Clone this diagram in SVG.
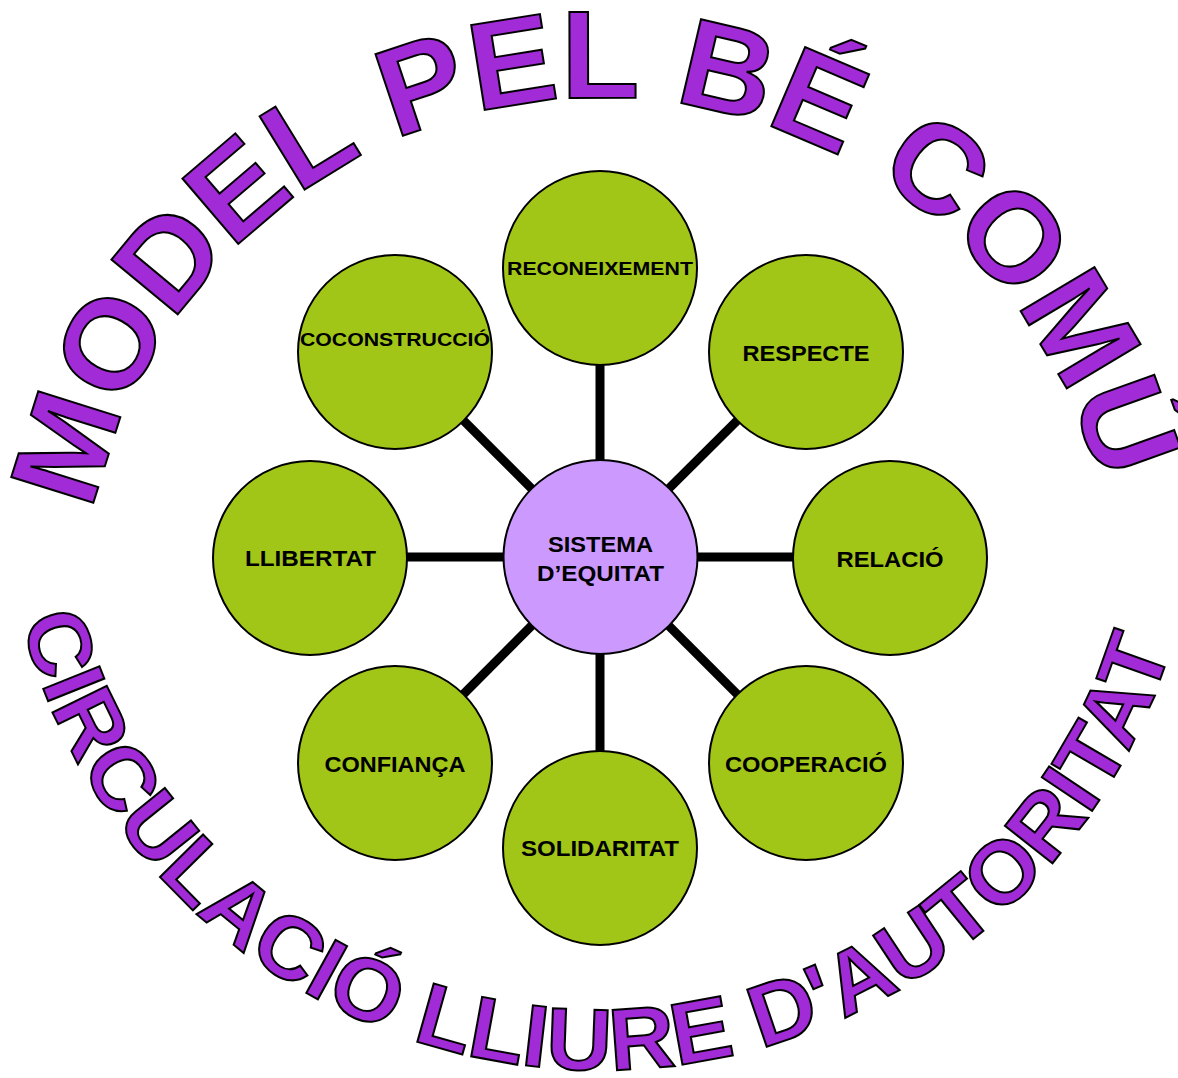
<svg xmlns="http://www.w3.org/2000/svg" width="1178" height="1078" viewBox="0 0 1178 1078">
<defs>
<style>
.arc{font-family:"Liberation Sans",Arial,sans-serif;font-weight:bold;fill:#A22BD8;stroke:#000;stroke-width:2;stroke-linejoin:miter}
.node circle{fill:#A2C617;stroke:#000;stroke-width:2}
.hub circle{fill:#CC99FF;stroke:#000;stroke-width:2}
.lbl{font-family:"Liberation Sans",Arial,sans-serif;font-weight:bold;fill:#000;text-anchor:middle}
.conn line{stroke:#000;stroke-width:9}
</style>
<path id="arcTop" d="M 83,615 A 517,517 0 0 1 1117,615" fill="none"/>
<path id="arcBottom" d="M 3,473 A 597,597 0 0 0 1197,473" fill="none"/>
</defs>
<rect width="1178" height="1078" fill="#fff"/>

<g id="title-top">
<text class="arc" font-size="125"><textPath href="#arcTop" startOffset="798" text-anchor="middle" textLength="1388" lengthAdjust="spacingAndGlyphs">MODEL PEL BÉ COMÚ</textPath></text>
</g>
<g id="title-bottom">
<text class="arc" font-size="88"><textPath href="#arcBottom" startOffset="924" text-anchor="middle" textLength="1550" lengthAdjust="spacingAndGlyphs">CIRCULACIÓ LLIURE D'AUTORITAT</textPath></text>
</g>

<g id="connectors" class="conn">
<line x1="600" y1="557" x2="600" y2="267"/>
<line x1="600" y1="557" x2="806" y2="352"/>
<line x1="600" y1="557" x2="890" y2="557"/>
<line x1="600" y1="557" x2="806" y2="763"/>
<line x1="600" y1="557" x2="600" y2="848"/>
<line x1="600" y1="557" x2="395" y2="763"/>
<line x1="600" y1="557" x2="310" y2="557"/>
<line x1="600" y1="557" x2="395" y2="352"/>
</g>

<g id="node-reconeixement" class="node">
<circle cx="600" cy="268" r="97"/>
<text class="lbl" x="600" y="275" font-size="19" textLength="186" lengthAdjust="spacingAndGlyphs">RECONEIXEMENT</text>
</g>
<g id="node-respecte" class="node">
<circle cx="806" cy="352" r="97"/>
<text class="lbl" x="806" y="361" font-size="22" textLength="127" lengthAdjust="spacingAndGlyphs">RESPECTE</text>
</g>
<g id="node-relacio" class="node">
<circle cx="890" cy="558" r="97"/>
<text class="lbl" x="890" y="566.5" font-size="22" textLength="107" lengthAdjust="spacingAndGlyphs">RELACIÓ</text>
</g>
<g id="node-cooperacio" class="node">
<circle cx="806" cy="763" r="97"/>
<text class="lbl" x="806" y="771.5" font-size="22" textLength="162" lengthAdjust="spacingAndGlyphs">COOPERACIÓ</text>
</g>
<g id="node-solidaritat" class="node">
<circle cx="600" cy="848" r="97"/>
<text class="lbl" x="600" y="856" font-size="22" textLength="158" lengthAdjust="spacingAndGlyphs">SOLIDARITAT</text>
</g>
<g id="node-confianca" class="node">
<circle cx="395" cy="763" r="97"/>
<text class="lbl" x="395" y="771.5" font-size="22" textLength="141" lengthAdjust="spacingAndGlyphs">CONFIANÇA</text>
</g>
<g id="node-llibertat" class="node">
<circle cx="310" cy="558" r="97"/>
<text class="lbl" x="310.5" y="566" font-size="22" textLength="131" lengthAdjust="spacingAndGlyphs">LLIBERTAT</text>
</g>
<g id="node-coconstruccio" class="node">
<circle cx="395" cy="352" r="97"/>
<text class="lbl" x="395" y="346" font-size="19" textLength="190" lengthAdjust="spacingAndGlyphs">COCONSTRUCCIÓ</text>
</g>
<g id="node-sistema" class="hub">
<circle cx="600.5" cy="557" r="97"/>
<text class="lbl" x="600.5" y="552" font-size="22" textLength="105" lengthAdjust="spacingAndGlyphs">SISTEMA</text>
<text class="lbl" x="600.5" y="581" font-size="22" textLength="127" lengthAdjust="spacingAndGlyphs">D’EQUITAT</text>
</g>
</svg>
